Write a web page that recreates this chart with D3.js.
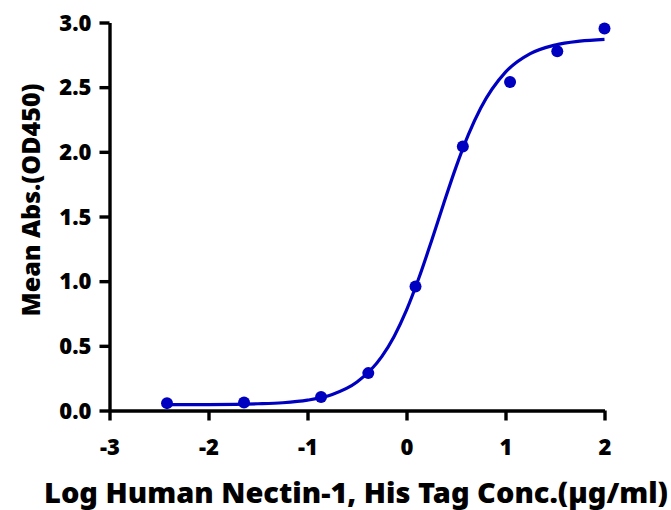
<!DOCTYPE html>
<html>
<head>
<meta charset="utf-8">
<script src="https://cdn.jsdelivr.net/npm/d3@7"></script>
<style>
  body { margin: 0; background: #fff; }
  svg text { font-family: "Noto Sans", sans-serif; font-weight: 900; fill: #000; }
</style>
</head>
<body>
<svg id="chart" width="671" height="510"></svg>
<script>
// measured points: log conc vs mean OD450
const logConc = [-2.419, -1.641, -0.863, -0.386, 0.091, 0.569, 1.046, 1.523, 2.0];
const meanAbs = [0.057, 0.062, 0.104, 0.289, 0.959, 2.042, 2.54, 2.777, 2.953];

// fitted curve
const curveX = [-2.42, -2, -1.5, -1.25, -1, -0.75, -0.5, -0.25, -0.125, 0, 0.125, 0.25, 0.375, 0.5, 0.625, 0.75, 1, 1.25, 1.5, 1.75, 2];
const curveY = [0.045, 0.046, 0.052, 0.06, 0.08, 0.124, 0.22, 0.417, 0.573, 0.776, 1.024, 1.305, 1.599, 1.882, 2.133, 2.339, 2.616, 2.759, 2.826, 2.856, 2.87];

const xTicks = [-3, -2, -1, 0, 1, 2];
const yTicks = [0, 0.5, 1.0, 1.5, 2.0, 2.5, 3.0];

const blue = "#0000c0";

const svg = d3.select("#chart");
const x = d3.scaleLinear().domain([-3, 2]).range([109.5, 604.5]);
const y = d3.scaleLinear().domain([0, 3]).range([410.5, 22.5]);

// axes
const xAxis = svg.append("g")
    .attr("transform", "translate(0," + y(0) + ")")
    .call(d3.axisBottom(x).tickValues(xTicks).tickFormat(d => String(d)).tickSize(10).tickSizeOuter(0));
const yAxis = svg.append("g")
    .attr("transform", "translate(" + x(-3) + ",0)")
    .call(d3.axisLeft(y).tickValues(yTicks).tickFormat(d3.format(".1f")).tickSize(10).tickSizeOuter(0));

[xAxis, yAxis].forEach(g => {
    g.select(".domain").style("stroke", "#000").style("stroke-width", "3.4px");
    g.selectAll(".tick line").style("stroke", "#000").style("stroke-width", "3.4px");
    g.selectAll(".tick text").style("font-size", "22px").attr("fill", "#000");
});
xAxis.selectAll(".tick text").attr("y", 29).attr("dy", "0.71em");
yAxis.selectAll(".tick text").attr("x", -18).attr("dy", "0.35em");

// curve
const line = d3.line()
    .x((d, i) => x(curveX[i]))
    .y(d => y(d))
    .curve(d3.curveMonotoneX);
svg.append("path")
    .datum(curveY)
    .attr("d", line)
    .attr("fill", "none")
    .attr("stroke", blue)
    .attr("stroke-width", 3.2);

// points
svg.append("g")
    .selectAll("circle")
    .data(meanAbs)
    .enter()
    .append("circle")
    .attr("cx", (d, i) => x(logConc[i]))
    .attr("cy", d => y(d))
    .attr("r", 6)
    .attr("fill", blue);

// axis titles
svg.append("text")
    .attr("x", 356)
    .attr("y", 503)
    .attr("text-anchor", "middle")
    .style("font-size", "29px")
    .text("Log Human Nectin-1, His Tag Conc.(µg/ml)");

svg.append("text")
    .attr("transform", "translate(40," + 200 + ") rotate(-90)")
    .attr("text-anchor", "middle")
    .style("font-size", "25px")
    .text("Mean Abs.(OD450)");
</script>
</body>
</html>
